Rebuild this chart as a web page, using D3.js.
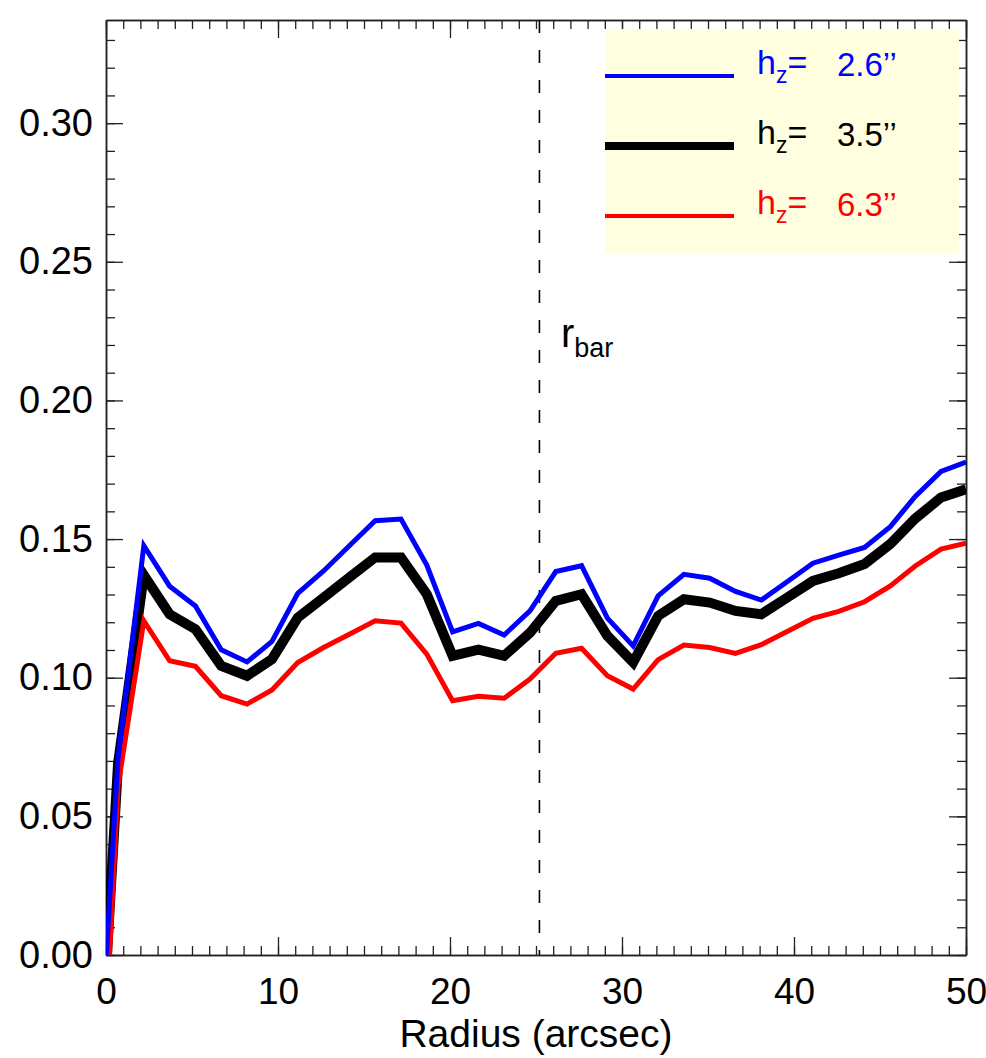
<!DOCTYPE html>
<html>
<head>
<meta charset="utf-8">
<script src="https://cdn.jsdelivr.net/npm/d3@7"></script>
<style>
  body { margin: 0; background: #fff; }
  text { font-family: "Liberation Sans", Arial, Helvetica, sans-serif; }
</style>
</head>
<body>
<div id="chart"></div>
<script>
// radius samples (arcsec) and the three profiles
const radius = [0, 0.7, 2.2, 3.7, 5.2, 6.7, 8.2, 9.65, 11.15, 12.65, 14.15, 15.65, 17.15, 18.65, 20.15, 21.65, 23.15, 24.65,
  26.15, 27.65, 29.15, 30.65, 32.1, 33.6, 35.1, 36.6, 38.1, 39.6, 41.1, 42.6, 44.1, 45.6, 47.05, 48.55, 50.0];
const hz26 = [-0.002, 0.071, 0.1476, 0.1330, 0.1259, 0.1101, 0.1057, 0.1131, 0.1304, 0.1385, 0.1476, 0.1566, 0.1572, 0.1406,
  0.1165, 0.1196, 0.1154, 0.1241, 0.1383, 0.1404, 0.1215, 0.1115, 0.1295, 0.1373, 0.1359, 0.1311, 0.1280, 0.1346, 0.1413,
  0.1442, 0.1470, 0.1545, 0.1654, 0.1744, 0.1778];
const hz35 = [-0.006, 0.069, 0.1370, 0.1229, 0.1175, 0.1043, 0.1007, 0.1067, 0.1217, 0.1289, 0.1362, 0.1434, 0.1434, 0.1301,
  0.1079, 0.1101, 0.1079, 0.1162, 0.1277, 0.1301, 0.1151, 0.1055, 0.1223, 0.1283, 0.1271, 0.1241, 0.1229, 0.1289, 0.1349,
  0.1377, 0.1410, 0.1482, 0.1574, 0.1650, 0.1680];
const hz63 = [-0.025, 0.061, 0.1205, 0.1061, 0.1041, 0.0935, 0.0905, 0.0956, 0.1055, 0.1109, 0.1157, 0.1205, 0.1197, 0.1085,
  0.0917, 0.0933, 0.0926, 0.0995, 0.1088, 0.1106, 0.1007, 0.0959, 0.1065, 0.1118, 0.1109, 0.1088, 0.1119, 0.1167, 0.1214,
  0.1239, 0.1274, 0.1331, 0.1403, 0.1464, 0.1485];
const xTicks = [0, 10, 20, 30, 40, 50];
const yTicks = [0.00, 0.05, 0.10, 0.15, 0.20, 0.25, 0.30];
const rBar = 25.2;

const series = [
  { name: '2.6\u2019\u2019', values: hz26, color: '#0000ff', width: 5 },
  { name: '3.5\u2019\u2019', values: hz35, color: '#000000', width: 10 },
  { name: '6.3\u2019\u2019', values: hz63, color: '#ff0000', width: 5 }
];

const W = 986, H = 1058;
const margin = { left: 106, right: 966, top: 20, bottom: 955 };

const svg = d3.select('#chart').append('svg')
  .attr('width', W)
  .attr('height', H);

const x = d3.scaleLinear().domain([0, 50]).range([margin.left, margin.right]);
const y = d3.scaleLinear().domain([0, 0.3372]).range([margin.bottom, margin.top]);

svg.append('clipPath').attr('id', 'plot')
  .append('rect')
  .attr('x', margin.left).attr('y', margin.top)
  .attr('width', margin.right - margin.left).attr('height', margin.bottom - margin.top);

// axes: major + minor ticks on all four sides
const minorX = d3.range(0, 51, 1);
const minorY = d3.range(0, 0.335, 0.01);

function styleAxis(g) {
  g.selectAll('path').attr('stroke', '#222').attr('stroke-width', 1.5);
  g.selectAll('line').attr('stroke', '#222').attr('stroke-width', 1.3);
}

svg.append('g')
  .attr('transform', `translate(0,${margin.bottom})`)
  .call(d3.axisBottom(x).tickValues(minorX).tickSize(-9).tickSizeOuter(0).tickFormat(''))
  .call(styleAxis);
svg.append('g')
  .attr('transform', `translate(0,${margin.bottom})`)
  .call(d3.axisBottom(x).tickValues(xTicks).tickSize(-18).tickSizeOuter(0).tickPadding(23).tickFormat(d3.format('d')))
  .call(styleAxis)
  .call(g => g.selectAll('text').attr('fill', '#000').style('font-size', '37px'));

svg.append('g')
  .attr('transform', `translate(0,${margin.top})`)
  .call(d3.axisTop(x).tickValues(minorX).tickSize(-9).tickSizeOuter(0).tickFormat(''))
  .call(styleAxis);
svg.append('g')
  .attr('transform', `translate(0,${margin.top})`)
  .call(d3.axisTop(x).tickValues(xTicks).tickSize(-18).tickSizeOuter(0).tickFormat(''))
  .call(styleAxis);

svg.append('g')
  .attr('transform', `translate(${margin.left},0)`)
  .call(d3.axisLeft(y).tickValues(minorY).tickSize(-9).tickSizeOuter(0).tickFormat(''))
  .call(styleAxis);
svg.append('g')
  .attr('transform', `translate(${margin.left},0)`)
  .call(d3.axisLeft(y).tickValues(yTicks).tickSize(-17).tickSizeOuter(0).tickPadding(13).tickFormat(d3.format('.2f')))
  .call(styleAxis)
  .call(g => g.selectAll('text').attr('fill', '#000').style('font-size', '38px'));

svg.append('g')
  .attr('transform', `translate(${margin.right},0)`)
  .call(d3.axisRight(y).tickValues(minorY).tickSize(-9).tickSizeOuter(0).tickFormat(''))
  .call(styleAxis);
svg.append('g')
  .attr('transform', `translate(${margin.right},0)`)
  .call(d3.axisRight(y).tickValues(yTicks).tickSize(-17).tickSizeOuter(0).tickFormat(''))
  .call(styleAxis);

svg.append('text')
  .attr('x', (margin.left + margin.right) / 2)
  .attr('y', 1047)
  .attr('text-anchor', 'middle')
  .style('font-size', '39px')
  .text('Radius (arcsec)');

// bar radius marker
svg.append('line')
  .attr('x1', x(rBar)).attr('x2', x(rBar))
  .attr('y1', margin.top).attr('y2', margin.bottom)
  .attr('stroke', '#000')
  .attr('stroke-width', 1.6)
  .attr('stroke-dasharray', '13,17');

const rLabel = svg.append('text')
  .attr('x', 561)
  .attr('y', 347)
  .style('font-size', '40px');
rLabel.append('tspan').text('r');
rLabel.append('tspan').attr('dy', 10).style('font-size', '27px').text('bar');

// profiles
const line = d3.line()
  .x((d, i) => x(radius[i]))
  .y(d => y(d));

const plot = svg.append('g').attr('clip-path', 'url(#plot)');
[series[1], series[2], series[0]].forEach(s => {
  plot.append('path')
    .datum(s.values)
    .attr('fill', 'none')
    .attr('stroke', s.color)
    .attr('stroke-width', s.width)
    .attr('stroke-linejoin', 'miter')
    .attr('d', line);
});

// legend
svg.append('rect')
  .attr('x', 605).attr('y', 29)
  .attr('width', 354).attr('height', 224)
  .attr('fill', '#ffffe0');

const legendY = [76, 146, 216];
series.forEach((s, i) => {
  const ly = legendY[i];
  svg.append('line')
    .attr('x1', 605).attr('x2', 734)
    .attr('y1', ly).attr('y2', ly)
    .attr('stroke', s.color)
    .attr('stroke-width', s.width === 10 ? 8 : 4);
  const t = svg.append('text')
    .attr('x', 757)
    .attr('y', ly - 2)
    .attr('fill', s.color)
    .style('font-size', '34px');
  t.append('tspan').text('h');
  t.append('tspan').attr('dy', 9).style('font-size', '23px').text('z');
  t.append('tspan').attr('dy', -9).text('=');
  svg.append('text')
    .attr('x', 837)
    .attr('y', ly)
    .attr('fill', s.color)
    .style('font-size', '33px')
    .text(s.name);
});
</script>
</body>
</html>
